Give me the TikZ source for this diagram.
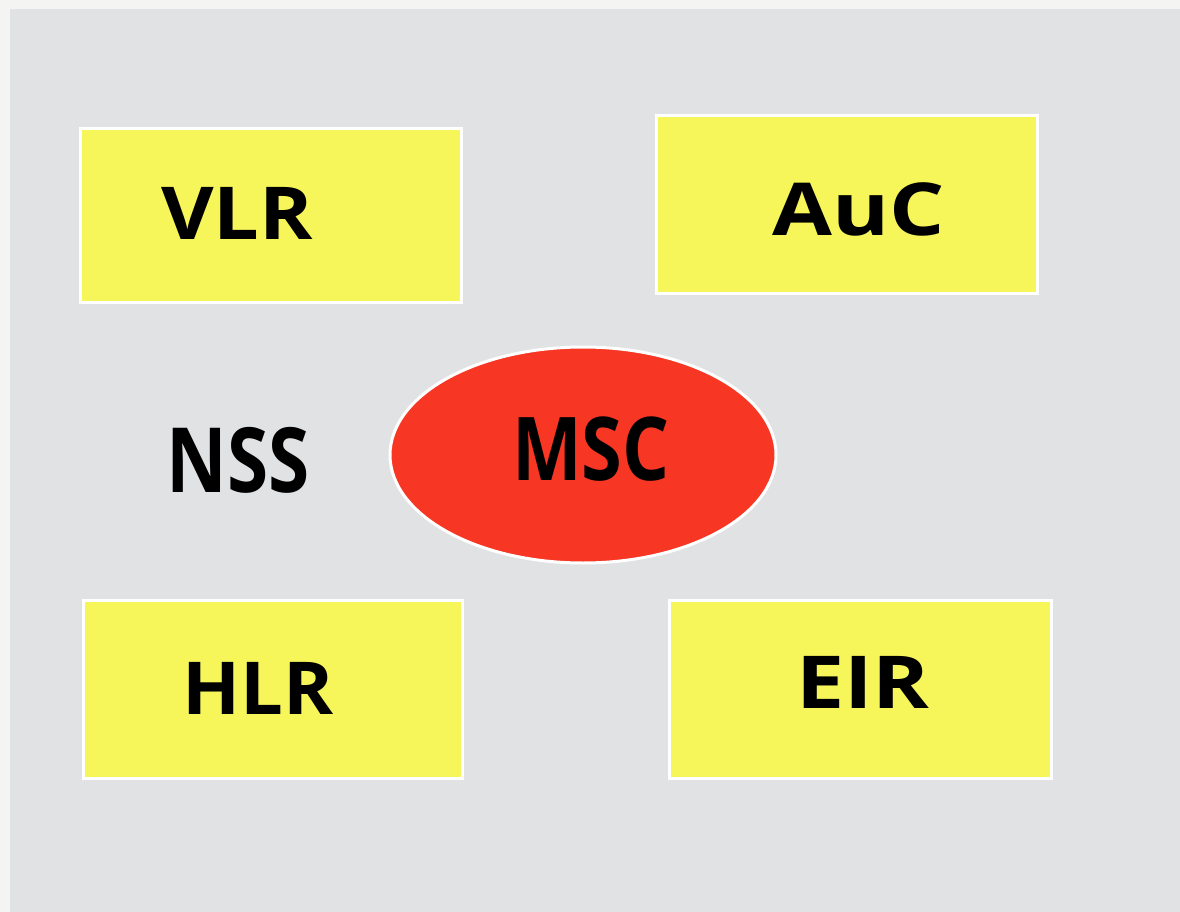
\documentclass[tikz,border=0pt]{standalone}
\usepackage{fontspec}
\setmainfont{Open Sans}
\usetikzlibrary{shapes.geometric}
\definecolor{bggrey}{HTML}{E1E2E4}
\definecolor{boxyellow}{HTML}{F6F55A}
\definecolor{mscred}{HTML}{F73624}
\definecolor{edgewhite}{HTML}{F4F5F3}
\tikzset{
  unitbox/.style={draw=white, line width=3pt, fill=boxyellow},
  lbl/.style={anchor=base, inner sep=0pt, text=black, font=\bfseries\fontsize{73}{80}\selectfont},
}
\begin{document}
\begin{tikzpicture}[x=1pt,y=-1pt]
\useasboundingbox (0,0) rectangle (1180,912);
\fill[edgewhite] (0,0) rectangle (1180,912);
\fill[bggrey] (10,9) rectangle (1180,912);
% boxes
\draw[unitbox] (80.5,128.5) rectangle (461.5,302.5);
\draw[unitbox] (656.5,115.5) rectangle (1037.5,293.5);
\draw[unitbox] (83.5,600.5) rectangle (462.5,778.5);
\draw[unitbox] (669.5,600.5) rectangle (1051.5,778.5);
\node[draw=white, line width=3pt, fill=mscred, ellipse, minimum width=386pt, minimum height=216pt, inner sep=0pt] (msc) at (583,455) {};
% labels
\node[lbl, xscale=1.11] (vlr) at (237,239) {VLR};
\node[lbl, xscale=1.19] (auc) at (859,235) {AuC};
\node[lbl, xscale=1.04] (hlr) at (258,714) {HLR};
\node[lbl, xscale=1.18] (eir) at (863,708) {EIR};
\node[lbl, font=\bfseries\fontsize{90}{96}\selectfont, xscale=0.83] (nss) at (238,492) {NSS};
\node[lbl, font=\bfseries\fontsize{88}{96}\selectfont, xscale=0.84] (msct) at (591,480) {MSC};
\end{tikzpicture}
\end{document}
